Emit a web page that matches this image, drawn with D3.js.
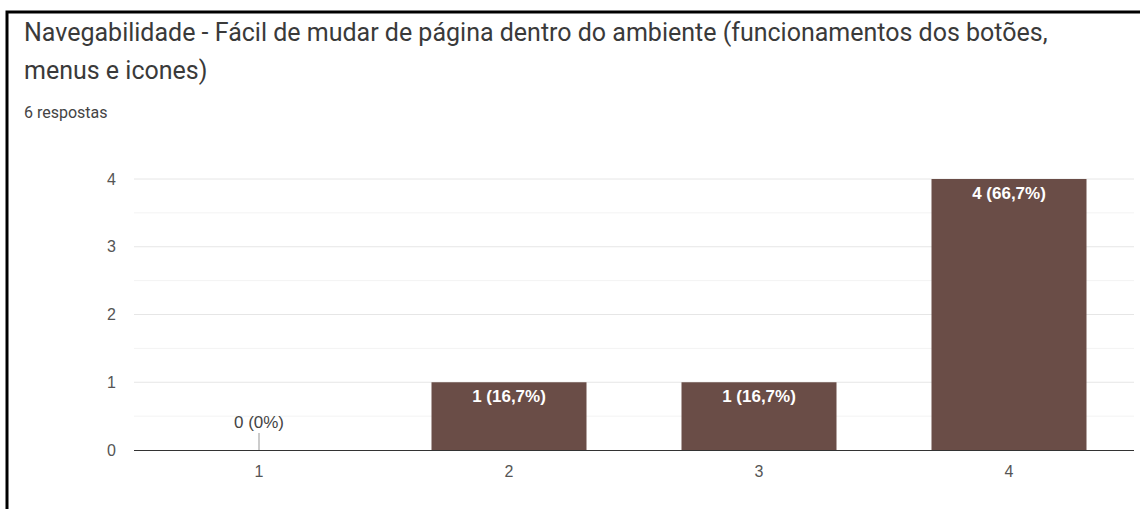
<!DOCTYPE html>
<html lang="pt">
  <head>
    <meta charset="utf-8">
    <title>Navegabilidade</title>
    <script src="https://d3js.org/d3.v7.min.js"></script>
    <style>
      body { margin: 0; background: #fff; }
      svg { display: block; font-family: Roboto, "Noto Sans", sans-serif; }
    </style>
  </head>
  <body>
    <script>
    // chart data
    var categories = ["1", "2", "3", "4"];
    var counts = [0, 1, 1, 4];
    var labels = ["0 (0%)", "1 (16,7%)", "1 (16,7%)", "4 (66,7%)"];
    var yTicks = [0, 1, 2, 3, 4];
    var titleLines = ["Navegabilidade - Fácil de mudar de página dentro do ambiente (funcionamentos dos botões,",
                      "menus e icones)"];
    var subtitle = "6 respostas";

    var w = 1140, h = 509;
    var svg = d3.select("body").append("svg")
                .attr("width", w)
                .attr("height", h);

    // frame (left + top edges only)
    svg.append("path")
       .attr("d", "M7,509 V12 H1140")
       .attr("fill", "none")
       .attr("stroke", "#000")
       .attr("stroke-width", 3);

    // titles
    svg.selectAll("text.title")
       .data(titleLines)
       .enter()
       .append("text")
       .attr("class", "title")
       .attr("x", 24)
       .attr("y", function(d, i) { return 41 + i * 38; })
       .attr("font-size", 25)
       .attr("fill", "#3a3a3a")
       .text(function(d) { return d; });

    svg.append("text")
       .attr("x", 24)
       .attr("y", 118)
       .attr("font-size", 16)
       .attr("fill", "#444")
       .text(subtitle);

    var x = d3.scaleBand()
              .domain(categories)
              .range([134, 1134])
              .paddingInner(0.38)
              .paddingOuter(0.19);

    var y = d3.scaleLinear()
              .domain([0, 4])
              .range([450, 179]);

    // minor grid lines
    svg.append("g")
       .selectAll("line")
       .data(d3.range(0.5, 4, 1))
       .enter()
       .append("line")
       .attr("x1", 134).attr("x2", 1134)
       .attr("y1", function(d) { return y(d); })
       .attr("y2", function(d) { return y(d); })
       .attr("stroke", "#f3f3f3");

    // major grid lines
    svg.append("g")
       .selectAll("line")
       .data(yTicks.slice(1))
       .enter()
       .append("line")
       .attr("x1", 134).attr("x2", 1134)
       .attr("y1", function(d) { return y(d); })
       .attr("y2", function(d) { return y(d); })
       .attr("stroke", "#e6e6e6");

    // y axis labels
    var yAxis = d3.axisLeft(y).tickValues(yTicks).tickFormat(d3.format("d")).tickSize(0).tickPadding(18);
    var gy = svg.append("g")
       .attr("transform", "translate(134,0)")
       .call(yAxis);
    gy.select(".domain").remove();
    gy.selectAll("text")
      .attr("font-size", 16)
      .attr("font-family", "'Liberation Sans', Arial, sans-serif")
      .attr("fill", "#555");

    // bars
    svg.selectAll("rect.bar")
       .data(counts)
       .enter()
       .append("rect")
       .attr("class", "bar")
       .attr("x", function(d, i) { return x(categories[i]); })
       .attr("y", function(d) { return y(d); })
       .attr("width", x.bandwidth())
       .attr("height", function(d) { return y(0) - y(d); })
       .attr("fill", "#6a4d47");

    // stem for zero-value label
    svg.selectAll("line.stem")
       .data(counts.filter(function(d) { return d === 0; }))
       .enter()
       .append("line")
       .attr("class", "stem")
       .attr("x1", function(d) { return x(categories[counts.indexOf(d)]) + x.bandwidth() / 2; })
       .attr("x2", function(d) { return x(categories[counts.indexOf(d)]) + x.bandwidth() / 2; })
       .attr("y1", y(0) - 17)
       .attr("y2", y(0))
       .attr("stroke", "#999");

    // value labels
    svg.selectAll("text.val")
       .data(counts)
       .enter()
       .append("text")
       .attr("class", "val")
       .attr("x", function(d, i) { return x(categories[i]) + x.bandwidth() / 2; })
       .attr("y", function(d) { return d === 0 ? y(0) - 22 : y(d) + 20; })
       .attr("text-anchor", "middle")
       .attr("font-family", "'Liberation Sans', Arial, sans-serif")
       .attr("font-size", 17)
       .attr("font-weight", function(d) { return d === 0 ? "normal" : "bold"; })
       .attr("fill", function(d) { return d === 0 ? "#444" : "#fff"; })
       .text(function(d, i) { return labels[i]; });

    // x axis
    var xAxis = d3.axisBottom(x).tickSize(0).tickPadding(16);
    var gx = svg.append("g")
       .attr("transform", "translate(0," + y(0) + ")")
       .call(xAxis);
    gx.select(".domain").attr("stroke", "#333").attr("d", "M134,0.5H1134");
    gx.selectAll("text")
      .attr("font-size", 16)
      .attr("font-family", "'Liberation Sans', Arial, sans-serif")
      .attr("fill", "#555");
    </script>
  </body>
</html>
